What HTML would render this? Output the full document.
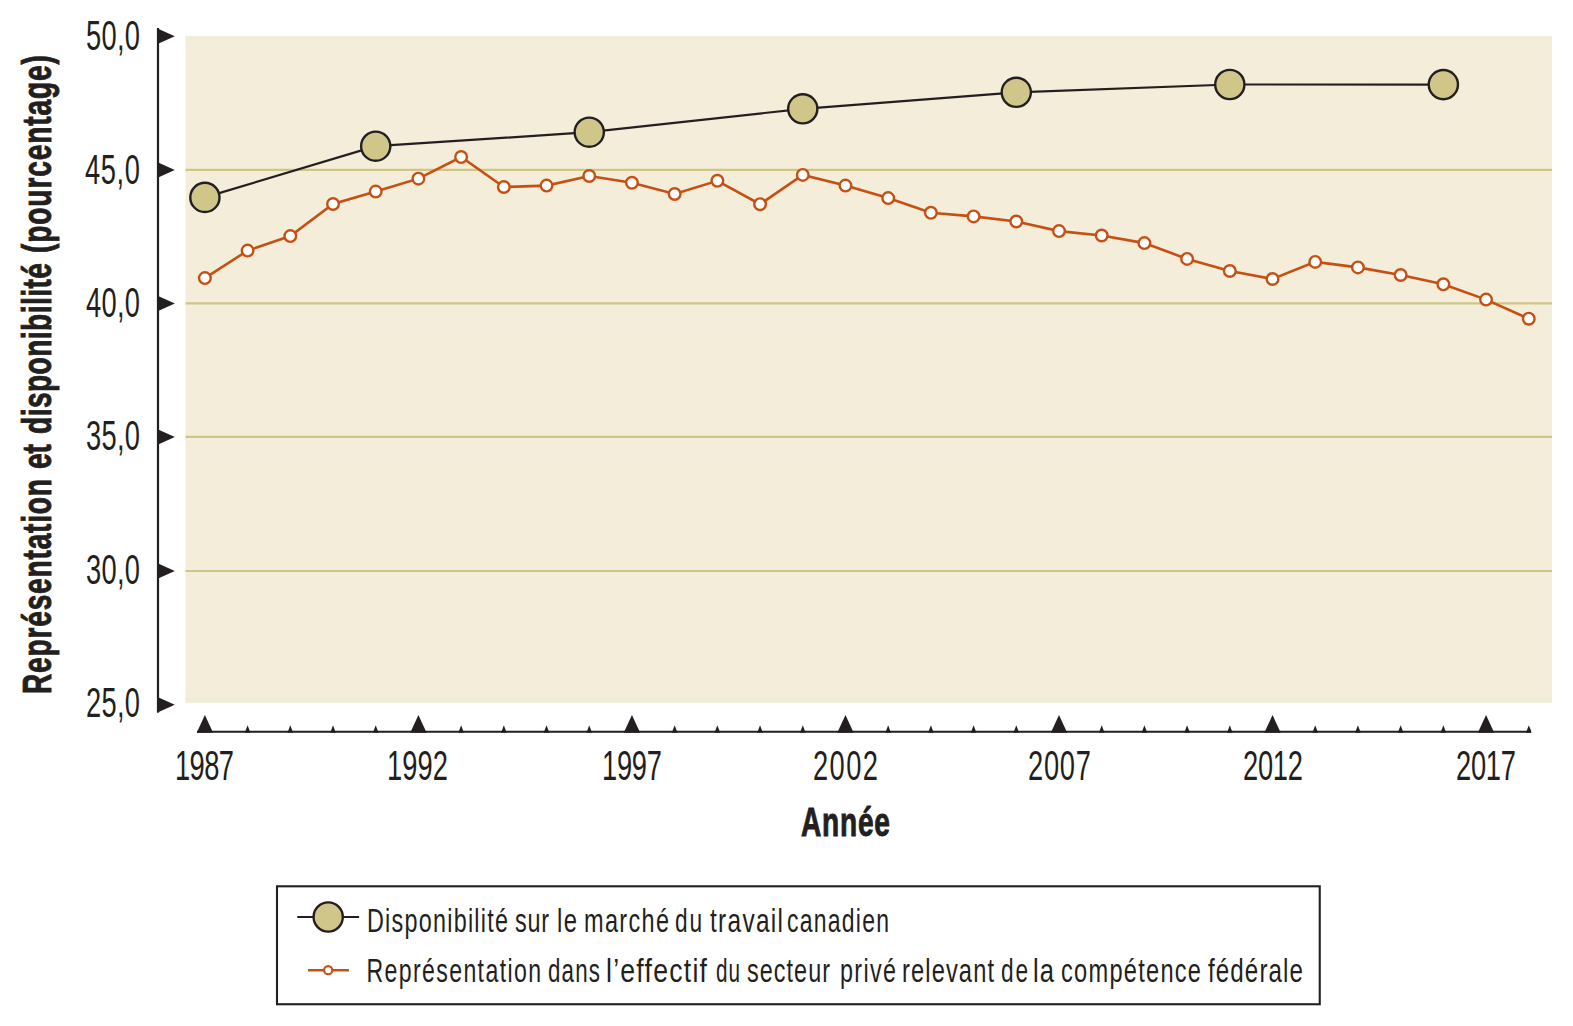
<!DOCTYPE html><html><head><meta charset="utf-8"><style>html,body{margin:0;padding:0;background:#fff;width:1573px;height:1026px;overflow:hidden}svg{display:block}text{font-family:"Liberation Sans",sans-serif;fill:#231f20}</style></head><body>
<svg width="1573" height="1026" viewBox="0 0 1573 1026">
<rect x="185.5" y="36.2" width="1366.5" height="666.4" fill="#f3edda"/>
<rect x="185.5" y="36.2" width="1366.5" height="3" fill="#efedd8"/>
<rect x="185.5" y="697.6" width="1366.5" height="5" fill="#efedd8"/>
<line x1="185.5" x2="1552" y1="169.90" y2="169.90" stroke="#cfc585" stroke-width="2.2"/>
<line x1="185.5" x2="1552" y1="303.40" y2="303.40" stroke="#cfc585" stroke-width="2.2"/>
<line x1="185.5" x2="1552" y1="436.95" y2="436.95" stroke="#cfc585" stroke-width="2.2"/>
<line x1="185.5" x2="1552" y1="571.00" y2="571.00" stroke="#cfc585" stroke-width="2.2"/>
<line x1="158" x2="158" y1="28" y2="712.5" stroke="#231f20" stroke-width="2.2"/>
<path d="M157 28.15 L174.8 36.15 L157 44.15 Z" fill="#231f20"/>
<text id="y50" transform="translate(86.00,50.10) scale(0.65,1)" font-size="42" font-weight="normal" textLength="83.08" lengthAdjust="spacing">50,0</text>
<path d="M157 161.90 L174.8 169.90 L157 177.90 Z" fill="#231f20"/>
<text id="y45" transform="translate(85.00,184.10) scale(0.65,1)" font-size="42" font-weight="normal" textLength="84.62" lengthAdjust="spacing">45,0</text>
<path d="M157 295.40 L174.8 303.40 L157 311.40 Z" fill="#231f20"/>
<text id="y40" transform="translate(86.00,317.30) scale(0.65,1)" font-size="42" font-weight="normal" textLength="83.08" lengthAdjust="spacing">40,0</text>
<path d="M157 428.95 L174.8 436.95 L157 444.95 Z" fill="#231f20"/>
<text id="y35" transform="translate(86.00,450.30) scale(0.65,1)" font-size="42" font-weight="normal" textLength="83.08" lengthAdjust="spacing">35,0</text>
<path d="M157 563.00 L174.8 571.00 L157 579.00 Z" fill="#231f20"/>
<text id="y30" transform="translate(86.00,584.30) scale(0.65,1)" font-size="42" font-weight="normal" textLength="83.08" lengthAdjust="spacing">30,0</text>
<path d="M157 696.80 L174.8 704.80 L157 712.80 Z" fill="#231f20"/>
<text id="y25" transform="translate(86.00,717.10) scale(0.65,1)" font-size="42" font-weight="normal" textLength="83.08" lengthAdjust="spacing">25,0</text>
<line x1="197" x2="1531" y1="731.8" y2="731.8" stroke="#231f20" stroke-width="2"/>
<path d="M196.70 732.8 L204.90 715.1 L213.10 732.8 Z" fill="#231f20"/>
<text id="x1987" transform="translate(175.00,779.80) scale(0.65,1)" font-size="42" font-weight="normal" textLength="90.77" lengthAdjust="spacing">1987</text>
<path d="M244.81 732.8 L247.61 725.2 L250.41 732.8 Z" fill="#231f20"/>
<path d="M287.51 732.8 L290.31 725.2 L293.11 732.8 Z" fill="#231f20"/>
<path d="M330.21 732.8 L333.01 725.2 L335.81 732.8 Z" fill="#231f20"/>
<path d="M372.92 732.8 L375.72 725.2 L378.52 732.8 Z" fill="#231f20"/>
<path d="M410.22 732.8 L418.42 715.1 L426.62 732.8 Z" fill="#231f20"/>
<text id="x1992" transform="translate(387.00,779.80) scale(0.65,1)" font-size="42" font-weight="normal" textLength="93.85" lengthAdjust="spacing">1992</text>
<path d="M458.33 732.8 L461.13 725.2 L463.93 732.8 Z" fill="#231f20"/>
<path d="M501.04 732.8 L503.84 725.2 L506.64 732.8 Z" fill="#231f20"/>
<path d="M543.74 732.8 L546.54 725.2 L549.34 732.8 Z" fill="#231f20"/>
<path d="M586.45 732.8 L589.25 725.2 L592.04 732.8 Z" fill="#231f20"/>
<path d="M623.75 732.8 L631.95 715.1 L640.15 732.8 Z" fill="#231f20"/>
<text id="x1997" transform="translate(602.00,779.80) scale(0.65,1)" font-size="42" font-weight="normal" textLength="92.31" lengthAdjust="spacing">1997</text>
<path d="M671.86 732.8 L674.65 725.2 L677.45 732.8 Z" fill="#231f20"/>
<path d="M714.56 732.8 L717.36 725.2 L720.16 732.8 Z" fill="#231f20"/>
<path d="M757.26 732.8 L760.06 725.2 L762.86 732.8 Z" fill="#231f20"/>
<path d="M799.97 732.8 L802.77 725.2 L805.57 732.8 Z" fill="#231f20"/>
<path d="M837.27 732.8 L845.47 715.1 L853.67 732.8 Z" fill="#231f20"/>
<text id="x2002" transform="translate(813.00,779.80) scale(0.65,1)" font-size="42" font-weight="normal" textLength="100.00" lengthAdjust="spacing">2002</text>
<path d="M885.38 732.8 L888.18 725.2 L890.98 732.8 Z" fill="#231f20"/>
<path d="M928.09 732.8 L930.88 725.2 L933.68 732.8 Z" fill="#231f20"/>
<path d="M970.79 732.8 L973.59 725.2 L976.39 732.8 Z" fill="#231f20"/>
<path d="M1013.50 732.8 L1016.29 725.2 L1019.09 732.8 Z" fill="#231f20"/>
<path d="M1050.80 732.8 L1059.00 715.1 L1067.20 732.8 Z" fill="#231f20"/>
<text id="x2007" transform="translate(1028.00,779.80) scale(0.65,1)" font-size="42" font-weight="normal" textLength="96.92" lengthAdjust="spacing">2007</text>
<path d="M1098.90 732.8 L1101.70 725.2 L1104.50 732.8 Z" fill="#231f20"/>
<path d="M1141.61 732.8 L1144.41 725.2 L1147.21 732.8 Z" fill="#231f20"/>
<path d="M1184.32 732.8 L1187.12 725.2 L1189.91 732.8 Z" fill="#231f20"/>
<path d="M1227.02 732.8 L1229.82 725.2 L1232.62 732.8 Z" fill="#231f20"/>
<path d="M1264.33 732.8 L1272.53 715.1 L1280.73 732.8 Z" fill="#231f20"/>
<text id="x2012" transform="translate(1243.00,779.80) scale(0.65,1)" font-size="42" font-weight="normal" textLength="92.31" lengthAdjust="spacing">2012</text>
<path d="M1312.43 732.8 L1315.23 725.2 L1318.03 732.8 Z" fill="#231f20"/>
<path d="M1355.13 732.8 L1357.93 725.2 L1360.73 732.8 Z" fill="#231f20"/>
<path d="M1397.84 732.8 L1400.64 725.2 L1403.44 732.8 Z" fill="#231f20"/>
<path d="M1440.55 732.8 L1443.35 725.2 L1446.14 732.8 Z" fill="#231f20"/>
<path d="M1477.85 732.8 L1486.05 715.1 L1494.25 732.8 Z" fill="#231f20"/>
<text id="x2017" transform="translate(1456.00,779.80) scale(0.65,1)" font-size="42" font-weight="normal" textLength="92.31" lengthAdjust="spacing">2017</text>
<path d="M1525.96 732.8 L1528.76 725.2 L1531.26 731 L1531.26 732.8 Z" fill="#231f20"/>
<text id="annee" transform="translate(801.00,836.00) scale(0.7,1)" font-size="40.2" font-weight="bold" textLength="127.14" lengthAdjust="spacing" stroke="#231f20" stroke-width="0.9">Année</text>
<text id="yt0" transform="translate(51.00,694.00) rotate(-90) scale(0.7,1)" font-size="40.2" font-weight="bold" textLength="307.14" lengthAdjust="spacing" stroke="#231f20" stroke-width="0.9">Représentation</text>
<text id="yt1" transform="translate(51.00,469.00) rotate(-90) scale(0.7,1)" font-size="40.2" font-weight="bold" textLength="35.71" lengthAdjust="spacing" stroke="#231f20" stroke-width="0.9">et</text>
<text id="yt2" transform="translate(51.00,434.00) rotate(-90) scale(0.7,1)" font-size="40.2" font-weight="bold" textLength="244.29" lengthAdjust="spacing" stroke="#231f20" stroke-width="0.9">disponibilité</text>
<text id="yt3" transform="translate(51.00,253.00) rotate(-90) scale(0.7,1)" font-size="40.2" font-weight="bold" textLength="282.86" lengthAdjust="spacing" stroke="#231f20" stroke-width="0.9">(pourcentage)</text>
<polyline points="204.90,278.10 247.61,250.60 290.31,236.10 333.01,204.00 375.72,191.60 418.42,178.65 461.13,157.04 503.84,187.00 546.54,185.60 589.25,176.00 631.95,182.80 674.65,194.00 717.36,180.80 760.06,204.20 802.77,174.90 845.47,185.60 888.18,198.10 930.88,212.80 973.59,216.40 1016.29,221.50 1059.00,231.10 1101.70,235.50 1144.41,243.10 1187.12,258.90 1229.82,271.00 1272.53,279.00 1315.23,261.90 1357.93,267.40 1400.64,275.00 1443.35,284.30 1486.05,299.60 1528.76,318.70" fill="none" stroke="#c64f12" stroke-width="2.6"/>
<circle cx="204.90" cy="278.10" r="5.8" fill="#fff" stroke="#c64f12" stroke-width="2.4"/>
<circle cx="247.61" cy="250.60" r="5.8" fill="#fff" stroke="#c64f12" stroke-width="2.4"/>
<circle cx="290.31" cy="236.10" r="5.8" fill="#fff" stroke="#c64f12" stroke-width="2.4"/>
<circle cx="333.01" cy="204.00" r="5.8" fill="#fff" stroke="#c64f12" stroke-width="2.4"/>
<circle cx="375.72" cy="191.60" r="5.8" fill="#fff" stroke="#c64f12" stroke-width="2.4"/>
<circle cx="418.42" cy="178.65" r="5.8" fill="#fff" stroke="#c64f12" stroke-width="2.4"/>
<circle cx="461.13" cy="157.04" r="5.8" fill="#fff" stroke="#c64f12" stroke-width="2.4"/>
<circle cx="503.84" cy="187.00" r="5.8" fill="#fff" stroke="#c64f12" stroke-width="2.4"/>
<circle cx="546.54" cy="185.60" r="5.8" fill="#fff" stroke="#c64f12" stroke-width="2.4"/>
<circle cx="589.25" cy="176.00" r="5.8" fill="#fff" stroke="#c64f12" stroke-width="2.4"/>
<circle cx="631.95" cy="182.80" r="5.8" fill="#fff" stroke="#c64f12" stroke-width="2.4"/>
<circle cx="674.65" cy="194.00" r="5.8" fill="#fff" stroke="#c64f12" stroke-width="2.4"/>
<circle cx="717.36" cy="180.80" r="5.8" fill="#fff" stroke="#c64f12" stroke-width="2.4"/>
<circle cx="760.06" cy="204.20" r="5.8" fill="#fff" stroke="#c64f12" stroke-width="2.4"/>
<circle cx="802.77" cy="174.90" r="5.8" fill="#fff" stroke="#c64f12" stroke-width="2.4"/>
<circle cx="845.47" cy="185.60" r="5.8" fill="#fff" stroke="#c64f12" stroke-width="2.4"/>
<circle cx="888.18" cy="198.10" r="5.8" fill="#fff" stroke="#c64f12" stroke-width="2.4"/>
<circle cx="930.88" cy="212.80" r="5.8" fill="#fff" stroke="#c64f12" stroke-width="2.4"/>
<circle cx="973.59" cy="216.40" r="5.8" fill="#fff" stroke="#c64f12" stroke-width="2.4"/>
<circle cx="1016.29" cy="221.50" r="5.8" fill="#fff" stroke="#c64f12" stroke-width="2.4"/>
<circle cx="1059.00" cy="231.10" r="5.8" fill="#fff" stroke="#c64f12" stroke-width="2.4"/>
<circle cx="1101.70" cy="235.50" r="5.8" fill="#fff" stroke="#c64f12" stroke-width="2.4"/>
<circle cx="1144.41" cy="243.10" r="5.8" fill="#fff" stroke="#c64f12" stroke-width="2.4"/>
<circle cx="1187.12" cy="258.90" r="5.8" fill="#fff" stroke="#c64f12" stroke-width="2.4"/>
<circle cx="1229.82" cy="271.00" r="5.8" fill="#fff" stroke="#c64f12" stroke-width="2.4"/>
<circle cx="1272.53" cy="279.00" r="5.8" fill="#fff" stroke="#c64f12" stroke-width="2.4"/>
<circle cx="1315.23" cy="261.90" r="5.8" fill="#fff" stroke="#c64f12" stroke-width="2.4"/>
<circle cx="1357.93" cy="267.40" r="5.8" fill="#fff" stroke="#c64f12" stroke-width="2.4"/>
<circle cx="1400.64" cy="275.00" r="5.8" fill="#fff" stroke="#c64f12" stroke-width="2.4"/>
<circle cx="1443.35" cy="284.30" r="5.8" fill="#fff" stroke="#c64f12" stroke-width="2.4"/>
<circle cx="1486.05" cy="299.60" r="5.8" fill="#fff" stroke="#c64f12" stroke-width="2.4"/>
<circle cx="1528.76" cy="318.70" r="5.8" fill="#fff" stroke="#c64f12" stroke-width="2.4"/>
<polyline points="204.90,197.40 375.72,146.20 589.25,132.20 802.77,108.80 1016.29,92.30 1229.82,84.50 1443.35,84.60" fill="none" stroke="#231f20" stroke-width="2.2"/>
<circle cx="204.90" cy="197.40" r="14.6" fill="#d1c68a" stroke="#231f20" stroke-width="2.4"/>
<circle cx="375.72" cy="146.20" r="14.6" fill="#d1c68a" stroke="#231f20" stroke-width="2.4"/>
<circle cx="589.25" cy="132.20" r="14.6" fill="#d1c68a" stroke="#231f20" stroke-width="2.4"/>
<circle cx="802.77" cy="108.80" r="14.6" fill="#d1c68a" stroke="#231f20" stroke-width="2.4"/>
<circle cx="1016.29" cy="92.30" r="14.6" fill="#d1c68a" stroke="#231f20" stroke-width="2.4"/>
<circle cx="1229.82" cy="84.50" r="14.6" fill="#d1c68a" stroke="#231f20" stroke-width="2.4"/>
<circle cx="1443.35" cy="84.60" r="14.6" fill="#d1c68a" stroke="#231f20" stroke-width="2.4"/>
<rect x="277" y="886.3" width="1042.75" height="117.95000000000005" fill="none" stroke="#231f20" stroke-width="2.1"/>
<line x1="297.3" x2="359.1" y1="917" y2="917" stroke="#231f20" stroke-width="2.2"/>
<circle cx="328.2" cy="917" r="14.6" fill="#d1c68a" stroke="#231f20" stroke-width="2.4"/>
<text id="l1_0" transform="translate(367.00,931.60) scale(0.708,1)" font-size="33" font-weight="normal" textLength="199.15" lengthAdjust="spacing">Disponibilité</text>
<text id="l1_1" transform="translate(515.00,931.60) scale(0.709,1)" font-size="33" font-weight="normal" textLength="47.95" lengthAdjust="spacing">sur</text>
<text id="l1_2" transform="translate(557.00,931.60) scale(0.724,1)" font-size="33" font-weight="normal" textLength="27.62" lengthAdjust="spacing">le</text>
<text id="l1_3" transform="translate(584.00,931.60) scale(0.712,1)" font-size="33" font-weight="normal" textLength="119.38" lengthAdjust="spacing">marché</text>
<text id="l1_4" transform="translate(675.00,931.60) scale(0.687,1)" font-size="33" font-weight="normal" textLength="39.30" lengthAdjust="spacing">du</text>
<text id="l1_5" transform="translate(710.00,931.60) scale(0.74,1)" font-size="33" font-weight="normal" textLength="98.65" lengthAdjust="spacing">travail</text>
<text id="l1_6" transform="translate(787.00,931.60) scale(0.697,1)" font-size="33" font-weight="normal" textLength="146.34" lengthAdjust="spacing">canadien</text>
<line x1="308" x2="348.9" y1="970.2" y2="970.2" stroke="#c64f12" stroke-width="2.5"/>
<circle cx="328.2" cy="970.2" r="4.1" fill="#fff" stroke="#c64f12" stroke-width="2.1"/>
<text id="l2_0" transform="translate(366.50,981.60) scale(0.701,1)" font-size="33" font-weight="normal" textLength="248.93" lengthAdjust="spacing">Représentation</text>
<text id="l2_1" transform="translate(548.00,981.60) scale(0.676,1)" font-size="33" font-weight="normal" textLength="76.92" lengthAdjust="spacing">dans</text>
<text id="l2_2" transform="translate(606.00,981.60) scale(0.808,1)" font-size="33" font-weight="normal" textLength="125.00" lengthAdjust="spacing">l’effectif</text>
<text id="l2_3" transform="translate(716.00,981.60) scale(0.627,1)" font-size="33" font-weight="normal" textLength="38.28" lengthAdjust="spacing">du</text>
<text id="l2_4" transform="translate(747.00,981.60) scale(0.71,1)" font-size="33" font-weight="normal" textLength="116.90" lengthAdjust="spacing">secteur</text>
<text id="l2_5" transform="translate(840.00,981.60) scale(0.707,1)" font-size="33" font-weight="normal" textLength="79.21" lengthAdjust="spacing">privé</text>
<text id="l2_6" transform="translate(902.00,981.60) scale(0.718,1)" font-size="33" font-weight="normal" textLength="128.13" lengthAdjust="spacing">relevant</text>
<text id="l2_7" transform="translate(1001.00,981.60) scale(0.687,1)" font-size="33" font-weight="normal" textLength="39.30" lengthAdjust="spacing">de</text>
<text id="l2_8" transform="translate(1033.00,981.60) scale(0.775,1)" font-size="33" font-weight="normal" textLength="27.10" lengthAdjust="spacing">la</text>
<text id="l2_9" transform="translate(1061.00,981.60) scale(0.716,1)" font-size="33" font-weight="normal" textLength="195.53" lengthAdjust="spacing">compétence</text>
<text id="l2_10" transform="translate(1208.00,981.60) scale(0.733,1)" font-size="33" font-weight="normal" textLength="129.60" lengthAdjust="spacing">fédérale</text>
</svg></body></html>
